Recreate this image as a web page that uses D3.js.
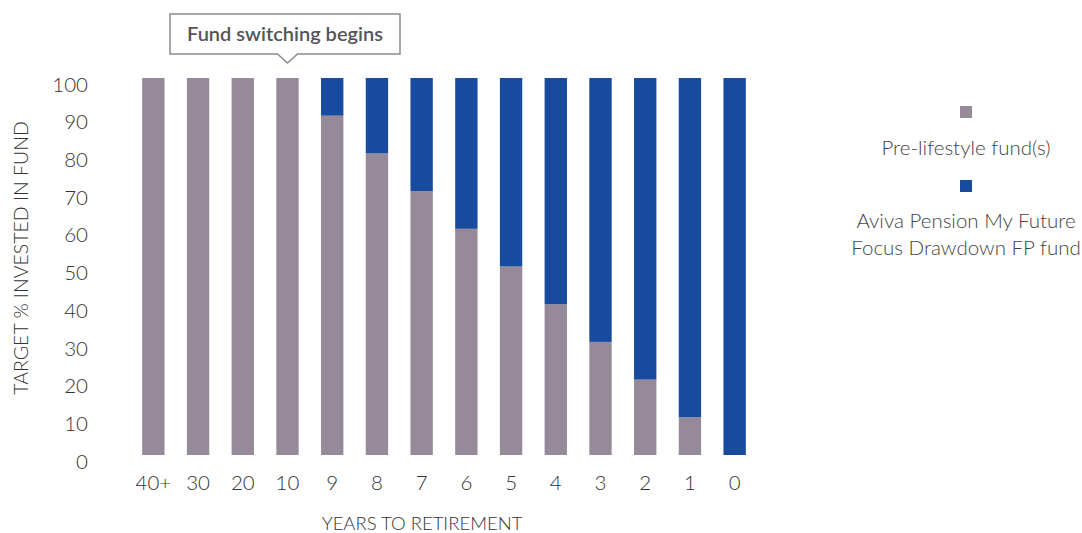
<!DOCTYPE html>
<html><head><meta charset="utf-8">
<script src="https://cdn.jsdelivr.net/npm/d3@7"></script>
<style>body{margin:0;background:#fff;}svg{display:block;font-family:"Source Sans Pro",Lato,"Open Sans",sans-serif;}</style>
</head><body><svg id="c" width="1082" height="533"></svg>
<script>
const categories = ["40+","30","20","10","9","8","7","6","5","4","3","2","1","0"];
const preLifestyle = [100,100,100,100,90,80,70,60,50,40,30,20,10,0];
const avivaFund = [0,0,0,0,10,20,30,40,50,60,70,80,90,100];
const yTicks = [0,10,20,30,40,50,60,70,80,90,100];
const seriesNames = ["Pre-lifestyle fund(s)", "Aviva Pension My Future Focus Drawdown FP fund"];
const colors = ["#968A9A", "#184A9E"];

const svg = d3.select("#c");
const x = d3.scaleBand().domain(categories).range([131, 757]).paddingInner(0.5).paddingOuter(0.25);
const y = d3.scaleLinear().domain([0, 100]).range([455, 78]);

const data = categories.map((c, i) => ({c, a: preLifestyle[i], b: avivaFund[i]}));
const stack = d3.stack().keys(["a","b"])(data);

svg.append("g").selectAll("g").data(stack).join("g")
  .attr("fill", (d, i) => colors[i])
  .selectAll("rect").data(d => d).join("rect")
  .attr("x", d => x(d.data.c))
  .attr("width", x.bandwidth())
  .attr("y", d => y(d[1]))
  .attr("height", d => y(d[0]) - y(d[1]));

const W = 300;
// y axis
const ya = svg.append("g").attr("transform", "translate(88,0)")
  .call(d3.axisLeft(y).tickValues(yTicks).tickSize(0).tickPadding(0))
  .attr("font-family", null).attr("font-size", null);
ya.select(".domain").remove();
ya.selectAll("text").attr("font-size", 20.5).attr("font-weight", W).attr("fill", "#333")
  .attr("dy", "0.35em").attr("y", 6);

// x axis
const xa = svg.append("g").attr("transform", "translate(0,475)")
  .call(d3.axisBottom(x).tickSize(0).tickPadding(0))
  .attr("font-family", null).attr("font-size", null);
xa.select(".domain").remove();
xa.selectAll("text").attr("font-size", 20.5).attr("font-weight", W).attr("fill", "#333").attr("dy", "0.71em");

svg.append("text").attr("x", 422).attr("y", 530).attr("text-anchor", "middle")
  .attr("font-size", 18.5).attr("font-weight", W).attr("fill", "#333").text("YEARS TO RETIREMENT");
svg.append("text").attr("transform", "translate(28,258) rotate(-90)").attr("text-anchor", "middle")
  .attr("font-size", 19.5).attr("font-weight", W).attr("fill", "#333").text("TARGET % INVESTED IN FUND");

// callout
const cx = x("10") + x.bandwidth() / 2;
svg.append("path")
  .attr("d", `M170,14 H400 V54 H${cx+10} L${cx},63 L${cx-10},54 H170 Z`)
  .attr("fill", "#fff").attr("stroke", "#8a8a8a").attr("stroke-width", 1.5);
svg.append("text").attr("x", 285).attr("y", 41).attr("text-anchor", "middle")
  .attr("font-size", 20).attr("font-weight", 600).attr("fill", "#555").text("Fund switching begins");

// legend
const lg = svg.append("g");
const lx = 966;
const ls = 20.5;
lg.append("rect").attr("x", lx - 6).attr("y", 106).attr("width", 12).attr("height", 12).attr("fill", colors[0]);
lg.append("text").attr("x", lx).attr("y", 155).attr("text-anchor", "middle").attr("font-size", ls).attr("font-weight", W).attr("fill", "#444").text(seriesNames[0]);
lg.append("rect").attr("x", lx - 6).attr("y", 180).attr("width", 12).attr("height", 12).attr("fill", colors[1]);
lg.append("text").attr("x", lx).attr("y", 228).attr("text-anchor", "middle").attr("font-size", ls).attr("font-weight", W).attr("fill", "#444").text("Aviva Pension My Future");
lg.append("text").attr("x", lx).attr("y", 255).attr("text-anchor", "middle").attr("font-size", ls).attr("font-weight", W).attr("fill", "#444").text("Focus Drawdown FP fund");
</script></body></html>
